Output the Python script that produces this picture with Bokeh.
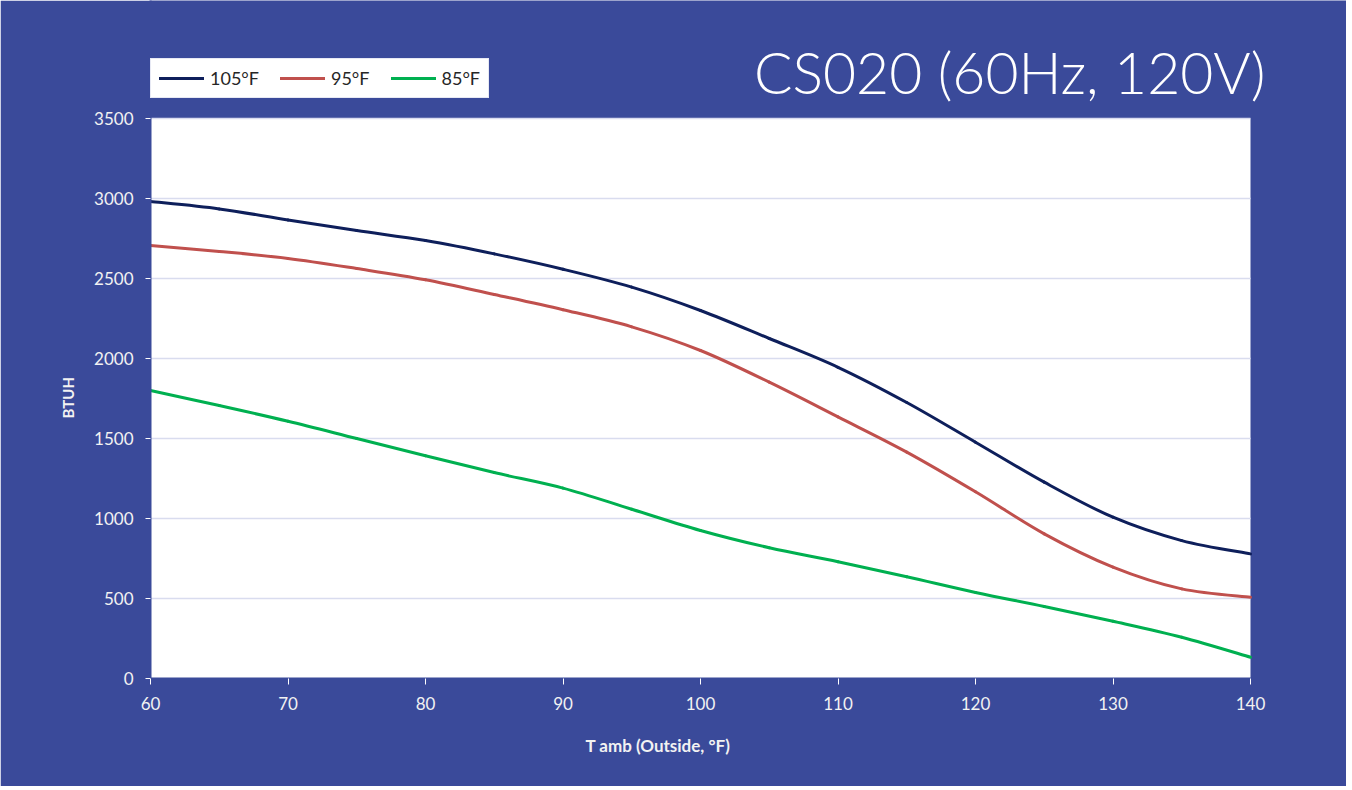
from bokeh.plotting import figure
from bokeh.models import Range1d, FixedTicker, Legend, LegendItem, Label, Title
from bokeh.embed import file_html
from bokeh.resources import INLINE

# ---- data ----
t_amb = [60, 65, 70, 75, 80, 85, 90, 95, 100, 105, 110, 115, 120, 125, 130, 135, 140]
btuh_105 = [2981, 2935, 2866, 2800, 2737, 2654, 2558, 2446, 2300, 2125, 1945, 1725, 1477, 1227, 1008, 862, 779]
btuh_95 = [2706, 2669, 2625, 2562, 2492, 2400, 2305, 2198, 2050, 1852, 1635, 1415, 1167, 904, 696, 560, 508]
btuh_85 = [1800, 1706, 1608, 1500, 1392, 1287, 1190, 1058, 925, 817, 730, 636, 538, 450, 358, 258, 133]
series_names = ["105°F", "95°F", "85°F"]
x_ticks = [60, 70, 80, 90, 100, 110, 120, 130, 140]
y_ticks = [0, 500, 1000, 1500, 2000, 2500, 3000, 3500]
x_min, x_max = 60, 140
y_min, y_max = 0, 3500
title_text = "CS020 (60Hz, 120V)"
x_label = "T amb (Outside, °F)"
y_label = "BTUH"

BG = "#3A4A9A"
FONT = "Lato"
colors = ["#0E1F5B", "#C0504D", "#00B050"]

# plot area spans x 150..1250, y 118..678 on the page; the frame reaches the
# top and right canvas edges so the legend and title (annotations) are not clipped.
W, H = 1346, 786
PX_X = 1100 / (x_max - x_min)
PX_Y = 560 / (y_max - y_min)
x_end = x_max + (W - 1250) / PX_X
y_end = y_max + 118 / PX_Y

p = figure(width=W, height=H, output_backend="svg", toolbar_location=None,
           x_range=Range1d(x_min, x_end), y_range=Range1d(y_min, y_end),
           min_border_left=150, min_border_right=0,
           min_border_top=0, min_border_bottom=H - 678)
p.border_fill_color = BG
p.background_fill_color = BG
p.outline_line_color = None
p.xgrid.grid_line_color = None
p.ygrid.grid_line_color = None

# white plot area
p.quad(left=[x_min], right=[x_max], bottom=[y_min], top=[y_max],
       fill_color="white", line_color=None, level="underlay")
# horizontal gridlines
grid_y = [v for v in y_ticks if v != y_min]
p.segment(x0=[x_min] * len(grid_y), x1=[x_max] * len(grid_y), y0=grid_y, y1=grid_y,
          line_color="#D9DCEF", line_width=1.3, level="underlay")

# axes
for ax in (p.xaxis[0], p.yaxis[0]):
    ax.axis_line_color = BG
    ax.axis_line_width = 2
    ax.major_tick_line_color = "white"
    ax.major_tick_in = 0
    ax.minor_tick_line_color = None
    ax.major_label_text_color = "#F2F2F2"
    ax.major_label_text_font = FONT
    ax.major_label_text_font_size = "17px"

p.xaxis.ticker = FixedTicker(ticks=x_ticks)
p.yaxis.ticker = FixedTicker(ticks=y_ticks)
p.xaxis.major_tick_out = 6
p.yaxis.major_tick_out = 5
p.xaxis.major_label_standoff = 12
p.yaxis.major_label_standoff = 12

# axis titles, positioned on the white plot area rather than the extended frame
xt = Title(text=x_label, align="left", offset=585 - 150, standoff=40,
           text_font=FONT, text_font_style="bold", text_font_size="17px", text_color="#F2F2F2")
p.add_layout(xt, "below")
yt = Title(text=y_label, align="left", offset=678 - 418, standoff=29,
           text_font=FONT, text_font_style="bold", text_font_size="15px", text_color="#F2F2F2")
p.add_layout(yt, "left")


# smooth curves (cubic Bezier through the read points, like a smoothed line)
def bezier_parts(xs, ys):
    n = len(xs)
    x0, y0, x1, y1, cx0, cy0, cx1, cy1 = ([] for _ in range(8))
    for i in range(n - 1):
        im, ip2 = max(i - 1, 0), min(i + 2, n - 1)
        x0.append(xs[i]); y0.append(ys[i]); x1.append(xs[i + 1]); y1.append(ys[i + 1])
        cx0.append(xs[i] + (xs[i + 1] - xs[im]) / 6); cy0.append(ys[i] + (ys[i + 1] - ys[im]) / 6)
        cx1.append(xs[i + 1] - (xs[ip2] - xs[i]) / 6); cy1.append(ys[i + 1] - (ys[ip2] - ys[i]) / 6)
    return dict(x0=x0, y0=y0, x1=x1, y1=y1, cx0=cx0, cy0=cy0, cx1=cx1, cy1=cy1)


renderers = []
for ys, c in zip([btuh_105, btuh_95, btuh_85], colors):
    r = p.bezier(**bezier_parts(t_amb, ys), line_color=c, line_width=3, line_cap="round")
    renderers.append(r)

legend = Legend(items=[LegendItem(label=n, renderers=[r]) for n, r in zip(series_names, renderers)],
                orientation="horizontal", location=(0, 678 - 98))
legend.background_fill_color = "white"
legend.background_fill_alpha = 1
legend.border_line_color = "#D0D4EA"
legend.label_text_font = FONT
legend.label_text_font_size = "18px"
legend.label_text_color = "#262626"
legend.glyph_width = 45
legend.glyph_height = 20
legend.label_standoff = 6
legend.spacing = 21
legend.padding = 8
legend.margin = 0
legend.label_height = 20
p.add_layout(legend, "center")

title = Label(x=1265 - 150, y=678 - 93 + 22, x_units="screen", y_units="screen", text=title_text,
              text_align="right", text_baseline="alphabetic",
              text_font="Lato Light", text_font_size="57px", text_color="white")
p.add_layout(title)

open("out.html", "w").write(file_html(p, INLINE))
